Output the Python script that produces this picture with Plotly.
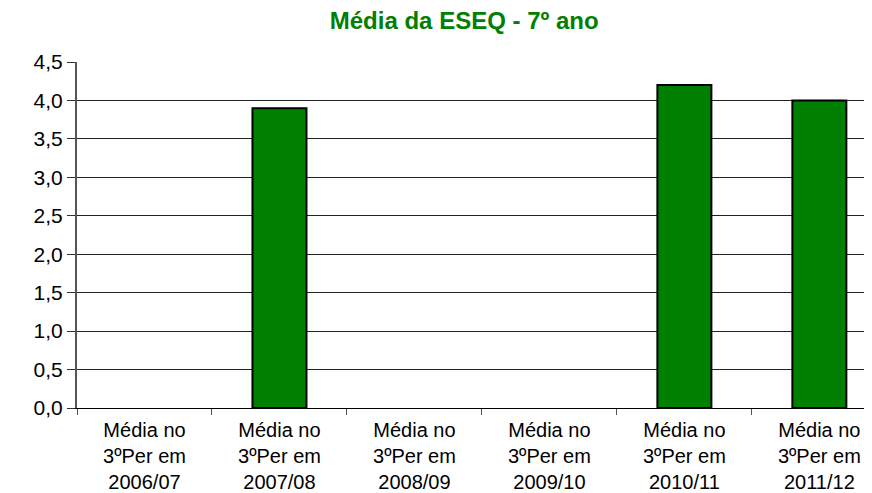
import plotly.graph_objects as go

GREEN = "#008000"

categories = [
    "Média no<br>3ºPer em<br>2006/07",
    "Média no<br>3ºPer em<br>2007/08",
    "Média no<br>3ºPer em<br>2008/09",
    "Média no<br>3ºPer em<br>2009/10",
    "Média no<br>3ºPer em<br>2010/11",
    "Média no<br>3ºPer em<br>2011/12",
]
values = [None, 3.9, None, None, 4.2, 4.0]
y_ticks = [0.0, 0.5, 1.0, 1.5, 2.0, 2.5, 3.0, 3.5, 4.0, 4.5]

FONT = "Liberation Sans, Arial, sans-serif"

fig = go.Figure(go.Bar(
    x=categories, y=values,
    marker=dict(color=GREEN, line=dict(color="black", width=2)),
    width=0.4,
))

# page body has an 8px margin, so the figure is sized to the visible area
fig.update_layout(
    title=dict(text="<b>Média da ESEQ - 7º ano</b>", x=0.528, xanchor="center",
               y=0.975, yanchor="middle",
               font=dict(family=FONT, size=24, color=GREEN)),
    width=864, height=485,
    paper_bgcolor="white", plot_bgcolor="white",
    font=dict(family=FONT, color="black"),
    margin=dict(l=69, r=0, t=54, b=85),
    separators=",.",
    showlegend=False,
)
fig.update_xaxes(
    range=[-0.5, 5.39], tickson="boundaries", ticks="outside", ticklen=6,
    tickcolor="#555555", showline=True, linecolor="black", linewidth=1,
    showgrid=False, tickfont=dict(size=20), automargin=False,
    ticklabelstandoff=4,
)
fig.update_yaxes(
    range=[0, 4.5], tickvals=y_ticks, tickformat=".1f",
    ticks="outside", ticklen=8, tickcolor="#333333",
    showline=True, linecolor="#555555", linewidth=2,
    showgrid=True, gridcolor="#222222", gridwidth=1,
    zeroline=False, tickfont=dict(size=21), automargin=False,
)

fig.write_html("out.html")
